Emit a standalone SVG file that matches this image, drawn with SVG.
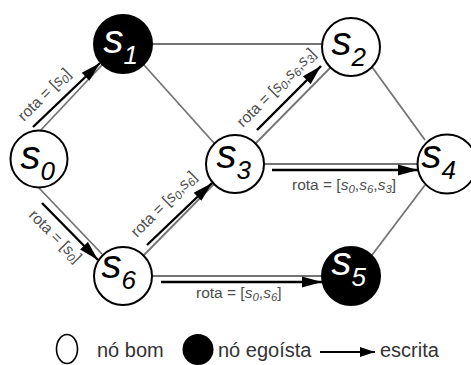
<svg xmlns="http://www.w3.org/2000/svg" width="471" height="365" viewBox="0 0 471 365">
<style>
.edge{stroke:#747474;stroke-width:1.8;fill:none}
.arr{stroke:#000;stroke-width:2.4;fill:none;marker-end:url(#ah)}
.node{stroke:#000;stroke-width:2}
.good{fill:#fff}
.bad{fill:#000}
.nl{font-family:"Liberation Sans",Arial,sans-serif;font-style:italic;font-size:40px}
.nl tspan{font-size:26px}
.lbl{font-family:"Liberation Sans",Arial,sans-serif;font-size:15.5px;fill:#4d4d4d}
.lbl .v{font-style:italic}
.lbl .sub{font-style:italic;font-size:11.5px}
.leg{font-family:"Liberation Sans",Arial,sans-serif;font-size:20px;fill:#333}
</style>
<defs>
<marker id="ah" markerUnits="userSpaceOnUse" markerWidth="21" markerHeight="12" refX="20" refY="6" orient="auto">
<path d="M0,0.5 L20,6 L0,11.5 z" fill="#000"/>
</marker>
<marker id="ahs" markerUnits="userSpaceOnUse" markerWidth="16" markerHeight="11" refX="15" refY="5.5" orient="auto">
<path d="M0,0.5 L15,5.5 L0,10.5 z" fill="#000"/>
</marker>
</defs>
<g id="connectors">
<line class="edge" x1="40" y1="131" x2="102" y2="65"/>
<line class="edge" x1="39" y1="188" x2="102" y2="254"/>
<line class="edge" x1="144" y1="255" x2="214" y2="184"/>
<line class="edge" x1="256" y1="143" x2="331" y2="67"/>
<line class="edge" x1="152" y1="44" x2="322" y2="44"/>
<line class="edge" x1="144" y1="65" x2="214" y2="143"/>
<line class="edge" x1="264" y1="164" x2="418" y2="164"/>
<line class="edge" x1="152" y1="276" x2="322" y2="276"/>
<line class="edge" x1="372" y1="67" x2="425" y2="140"/>
<line class="edge" x1="372" y1="255" x2="425" y2="185"/>
<line class="arr" x1="33" y1="127" x2="100" y2="63"/>
<line class="arr" x1="42" y1="203" x2="98" y2="260"/>
<line class="arr" x1="147" y1="245" x2="212" y2="183"/>
<line class="arr" x1="257" y1="130" x2="321" y2="66"/>
<line class="arr" x1="272" y1="170" x2="418" y2="170"/>
<line class="arr" x1="161" y1="282" x2="322" y2="282"/>
<text class="lbl" transform="translate(24,122) rotate(-45)">rota = [<tspan class="v">s</tspan><tspan class="sub" dy="3">0</tspan><tspan dy="-3">]</tspan></text>
<text class="lbl" transform="translate(28,216) rotate(45)">rota = [<tspan class="v">s</tspan><tspan class="sub" dy="3">0</tspan><tspan dy="-3">]</tspan></text>
<text class="lbl" transform="translate(137,238) rotate(-45)">rota = [<tspan class="v">s</tspan><tspan class="sub" dy="3">0</tspan><tspan dy="-3">,</tspan><tspan class="v">s</tspan><tspan class="sub" dy="3">6</tspan><tspan dy="-3">]</tspan></text>
<text class="lbl" transform="translate(243,128) rotate(-45)">rota = [<tspan class="v">s</tspan><tspan class="sub" dy="3">0</tspan><tspan dy="-3">,</tspan><tspan class="v">s</tspan><tspan class="sub" dy="3">6</tspan><tspan dy="-3">,</tspan><tspan class="v">s</tspan><tspan class="sub" dy="3">3</tspan><tspan dy="-3">]</tspan></text>
<text class="lbl" x="292" y="190">rota = [<tspan class="v">s</tspan><tspan class="sub" dy="3">0</tspan><tspan dy="-3">,</tspan><tspan class="v">s</tspan><tspan class="sub" dy="3">6</tspan><tspan dy="-3">,</tspan><tspan class="v">s</tspan><tspan class="sub" dy="3">3</tspan><tspan dy="-3">]</tspan></text>
<text class="lbl" x="196" y="298">rota = [<tspan class="v">s</tspan><tspan class="sub" dy="3">0</tspan><tspan dy="-3">,</tspan><tspan class="v">s</tspan><tspan class="sub" dy="3">6</tspan><tspan dy="-3">]</tspan></text>
</g>
<g id="s0"><circle class="node good" cx="39" cy="159" r="28.5"/><text class="nl" x="20.5" y="169" fill="#000">s<tspan dy="11">0</tspan></text></g>
<g id="s1"><circle class="node bad" cx="123" cy="44" r="29"/><text class="nl" x="103.5" y="53" fill="#fff">s<tspan dy="11">1</tspan></text></g>
<g id="s2"><circle class="node good" cx="351" cy="47" r="29"/><text class="nl" x="331.5" y="55" fill="#000">s<tspan dy="11">2</tspan></text></g>
<g id="s3"><circle class="node good" cx="235" cy="164" r="29"/><text class="nl" x="216.5" y="168" fill="#000">s<tspan dy="11">3</tspan></text></g>
<g id="s4"><circle class="node good" cx="447" cy="164" r="29.5"/><text class="nl" x="421.5" y="168" fill="#000">s<tspan dy="11">4</tspan></text></g>
<g id="s5"><circle class="node bad" cx="351" cy="276" r="29"/><text class="nl" x="331.5" y="275" fill="#fff">s<tspan dy="11">5</tspan></text></g>
<g id="s6"><circle class="node good" cx="123" cy="276" r="29"/><text class="nl" x="101.5" y="278" fill="#000">s<tspan dy="11">6</tspan></text></g>
<g id="legend">
<ellipse cx="67" cy="349" rx="10.5" ry="14.5" fill="#fff" stroke="#000" stroke-width="1.6"/>
<text class="leg" x="97" y="357">nó bom</text>
<circle cx="198" cy="349.5" r="15.5" fill="#000"/>
<text class="leg" x="218" y="357">nó egoísta</text>
<line x1="320" y1="352" x2="375" y2="352" stroke="#000" stroke-width="2" marker-end="url(#ahs)"/>
<text class="leg" x="380" y="357">escrita</text>
</g>
</svg>
